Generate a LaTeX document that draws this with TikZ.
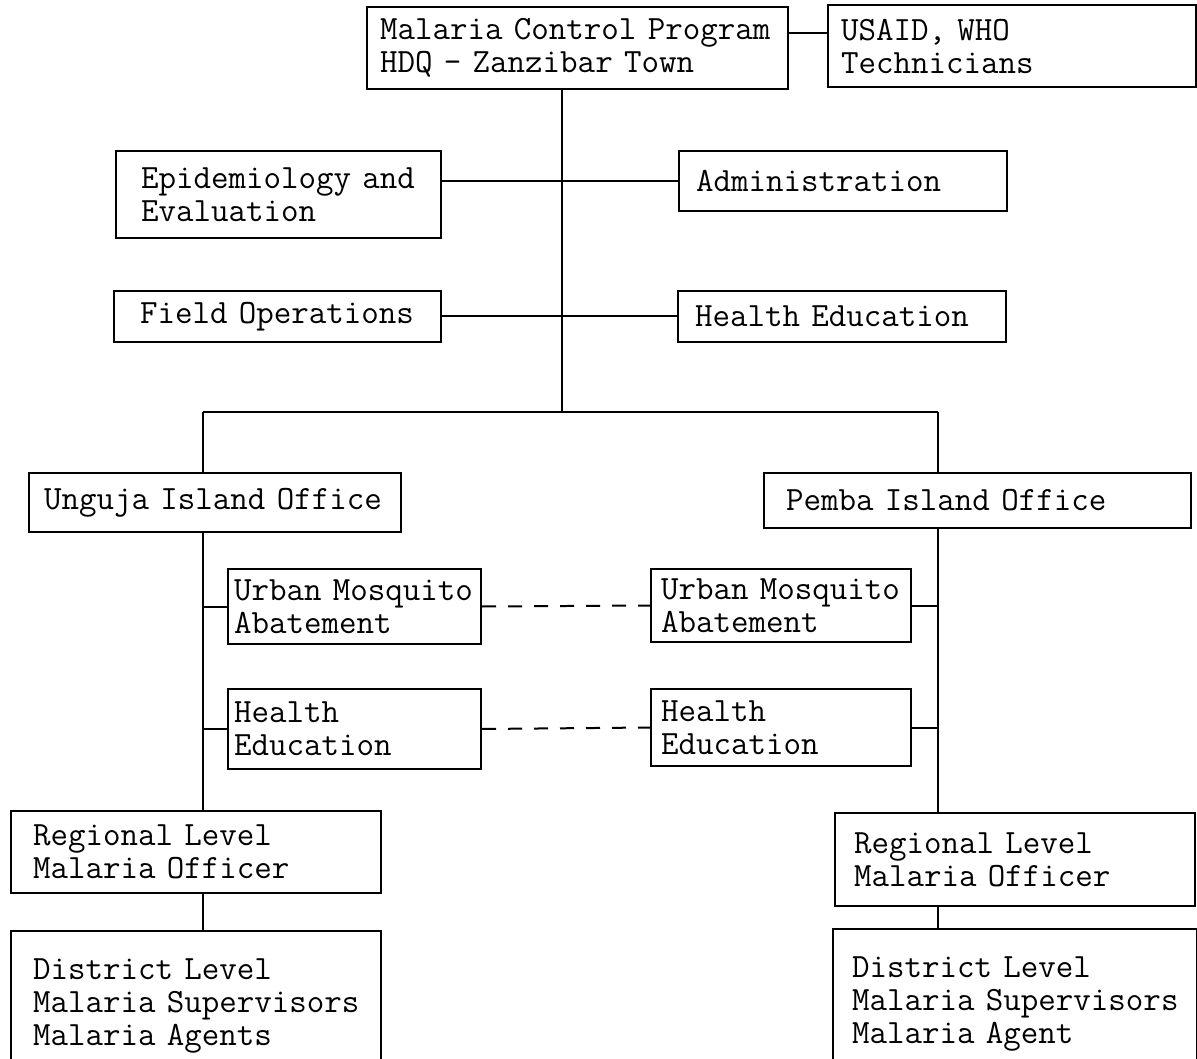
\documentclass[tikz,border=0pt]{standalone}
\usepackage{fontspec}
\tikzset{
  unit/.style={draw, line width=2pt, anchor=north west, align=left, inner ysep=2pt,
    font=\ttfamily\fontsize{34}{33}\selectfont},
  link/.style={line width=2pt},
  peer/.style={line width=2pt, dash pattern=on 14pt off 12pt}
}
\begin{document}
\begin{tikzpicture}[x=1pt, y=-1pt]
\clip (0,0) rectangle (1197,1059);
% headquarters
\node[unit, minimum height=82pt, text width=395pt, inner xsep=13pt] (hq) at (366,6) {Malaria~Control~Program\\HDQ - Zanzibar Town};
\node[unit, minimum height=82pt, text width=342pt, inner xsep=13pt] (donors) at (827,4) {USAID, WHO\\Technicians};
% sections
\node[unit, minimum height=87pt, text width=275pt, inner xsep=25pt] (epi) at (115,150) {Epidemiology~and\\Evaluation};
\node[unit, minimum height=60pt, text width=294pt, inner xsep=17pt] (admin) at (678,150) {Administration};
\node[unit, minimum height=51pt, text width=275pt, inner xsep=26pt] (field) at (113,290) {Field~Operations};
\node[unit, minimum height=51pt, text width=294pt, inner xsep=17pt] (hedu) at (677,290) {Health Education};
% island offices
\node[unit, minimum height=59pt, text width=342pt, inner xsep=15pt] (unguja) at (28,472) {Unguja~Island~Office};
\node[unit, minimum height=55pt, text width=383pt, inner xsep=22pt] (pemba) at (763,472) {Pemba Island Office};
\node[unit, minimum height=75pt, text width=241pt, inner xsep=6pt] (urbanL) at (227,568) {Urban~Mosquito\\Abatement};
\node[unit, minimum height=80pt, text width=241pt, inner xsep=6pt] (healthL) at (227,688) {Health\\Education};
\node[unit, minimum height=73pt, text width=240pt, inner xsep=10pt] (urbanR) at (650,568) {Urban~Mosquito\\Abatement};
\node[unit, minimum height=77pt, text width=240pt, inner xsep=10pt] (healthR) at (650,688) {Health\\Education};
% regional and district level
\node[unit, minimum height=82pt, text width=326pt, inner xsep=22pt] (regL) at (10,810) {Regional Level\\Malaria Officer};
\node[unit, minimum height=150pt, text width=326pt, inner xsep=22pt] (distL) at (10,930) {District Level\\Malaria~Supervisors\\Malaria Agents};
\node[unit, minimum height=93pt, text width=322pt, inner xsep=19pt] (regR) at (834,812) {Regional Level\\Malaria Officer};
\node[unit, minimum height=150pt, text width=326pt, inner xsep=19pt] (distR) at (832,928) {District Level\\Malaria~Supervisors\\Malaria Agent};
\coordinate (trunk) at (562,412);
\coordinate (lfork) at (203,412);
\coordinate (rfork) at (938,412);
% connectors
\draw[link] (hq.4) -- (hq.4 -| donors.west);
\draw[link] (hq.south -| trunk) -- (trunk);
\draw[link] (admin.west -| epi.east) -- (admin.west);
\draw[link] (field.east) -- (hedu.west);
\draw[link] (lfork) -- (rfork);
\draw[link] (lfork) -- (lfork |- unguja.north);
\draw[link] (rfork) -- (rfork |- pemba.north);
\draw[link] (unguja.south -| lfork) -- (regL.north -| lfork);
\draw[link] (pemba.south -| rfork) -- (regR.north -| rfork);
\draw[link] (urbanL.west -| lfork) -- (urbanL.west);
\draw[link] (healthL.west -| lfork) -- (healthL.west);
\draw[link] (urbanR.east) -- (urbanR.east -| rfork);
\draw[link] (healthR.east) -- (healthR.east -| rfork);
\draw[link] (regL.south -| lfork) -- (distL.north -| lfork);
\draw[link] (regR.south -| rfork) -- (distR.north -| rfork);
\draw[peer] (urbanL.east) -- (urbanR.west);
\draw[peer] (healthL.east) -- (healthR.west);
\end{tikzpicture}
\end{document}
